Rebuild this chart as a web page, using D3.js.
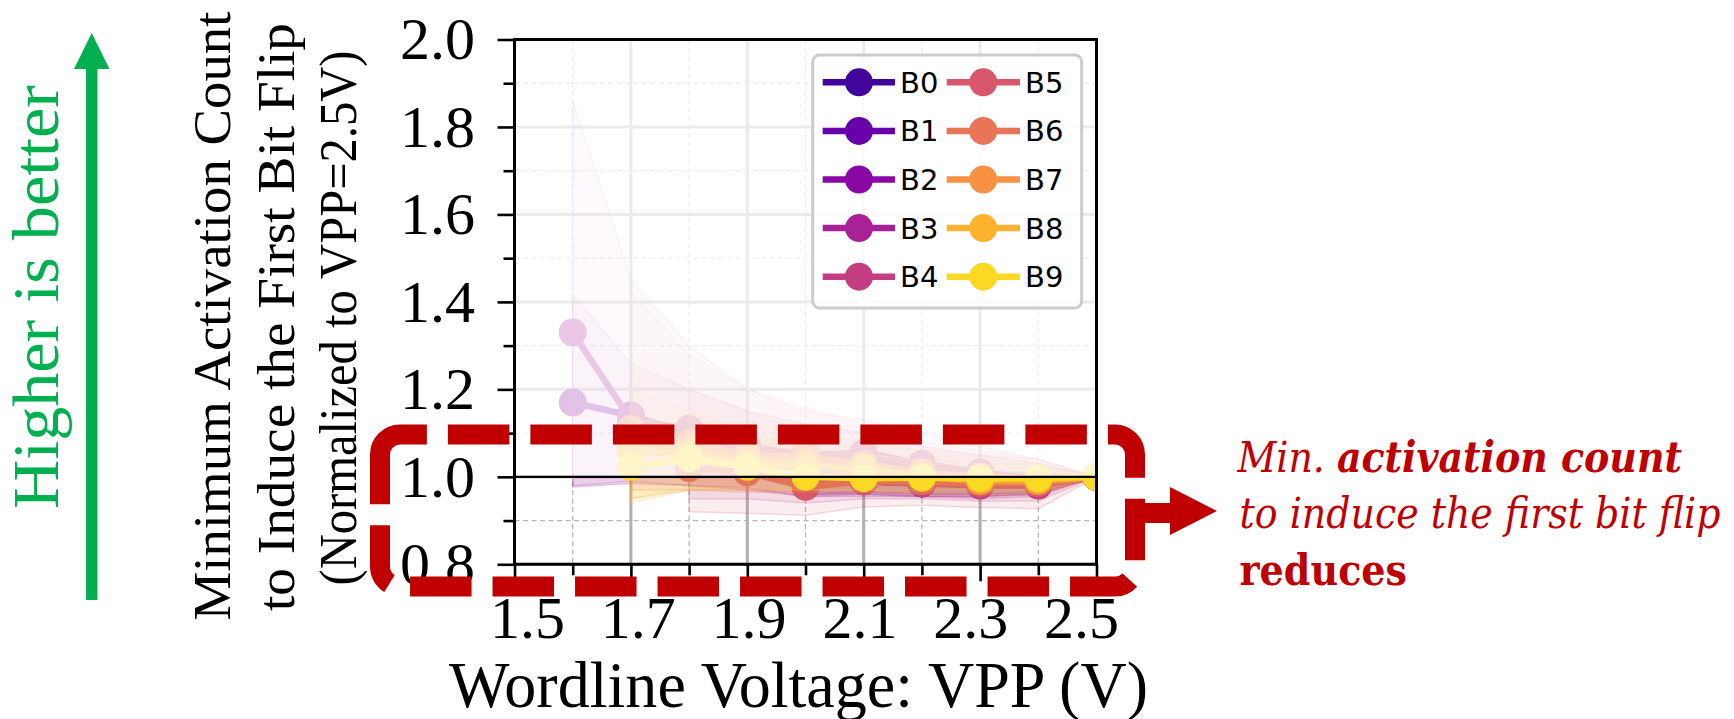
<!DOCTYPE html>
<html>
<head>
<meta charset="utf-8">
<script src="https://cdn.jsdelivr.net/npm/d3@7"></script>
<style>
  html, body { margin: 0; padding: 0; background: #fff; }
  svg { display: block; }
</style>
</head>
<body>
<svg id="chart" width="1734" height="719"></svg>
<script>
// ---- data -------------------------------------------------------------
const vpp = [1.6, 1.7, 1.8, 1.9, 2.0, 2.1, 2.2, 2.3, 2.4, 2.5];
const seriesNames = ["B0", "B1", "B2", "B3", "B4", "B5", "B6", "B7", "B8", "B9"];

// mean normalized activation count per module (null = no bit flips measured)
const meanValues = [
  [null, null, null, null, 0.985, 0.99, 0.985, 0.985, 0.99, 1.0],
  [null, null, null, null, 0.99, 0.99, 0.985, 0.985, 0.985, 1.0],
  [1.17, 1.14, 1.10, 1.06, 1.04, 1.04, 1.02, 1.01, 0.995, 1.0],
  [1.33, 1.13, 1.11, 1.07, 1.05, 1.055, 1.03, 1.01, 0.99, 1.0],
  [null, null, 1.05, 1.03, 0.99, 0.99, 0.985, 0.98, 0.98, 1.0],
  [null, null, 1.02, 1.01, 0.977, 0.99, 0.99, 0.985, 0.985, 1.0],
  [null, 1.11, 1.076, 1.05, 1.046, 1.03, 1.01, 1.0, 0.995, 1.0],
  [null, 1.08, 1.06, 1.04, 1.03, 1.01, 1.0, 0.99, 0.99, 1.0],
  [null, 1.06, 1.05, 1.03, 1.023, 1.02, 1.0, 0.995, 0.995, 1.0],
  [null, 1.023, 1.042, 1.023, 1.0, 0.997, 0.998, 0.997, 0.997, 1.0]
];
// minimum across rows
const lowValues = [
  [null, null, null, null, 0.96, 0.965, 0.96, 0.96, 0.965, 1.0],
  [null, null, null, null, 0.96, 0.96, 0.955, 0.955, 0.96, 1.0],
  [0.977, 0.985, 0.98, 0.975, 0.955, 0.955, 0.955, 0.955, 0.96, 1.0],
  [0.98, 0.99, 0.98, 0.97, 0.955, 0.96, 0.955, 0.95, 0.955, 1.0],
  [null, null, 0.95, 0.95, 0.94, 0.95, 0.95, 0.945, 0.945, 1.0],
  [null, null, 0.92, 0.917, 0.912, 0.931, 0.935, 0.93, 0.927, 1.0],
  [null, 0.97, 0.97, 0.965, 0.965, 0.965, 0.96, 0.96, 0.96, 1.0],
  [null, 0.95, 0.97, 0.97, 0.965, 0.965, 0.96, 0.96, 0.96, 1.0],
  [null, 0.94, 0.97, 0.97, 0.97, 0.97, 0.965, 0.965, 0.965, 1.0],
  [null, 0.95, 0.975, 0.975, 0.97, 0.97, 0.97, 0.97, 0.97, 1.0]
];
// maximum across rows
const highValues = [
  [null, null, null, null, 1.02, 1.02, 1.01, 1.01, 1.01, 1.0],
  [null, null, null, null, 1.03, 1.02, 1.015, 1.01, 1.01, 1.0],
  [1.415, 1.26, 1.2, 1.15, 1.12, 1.1, 1.07, 1.05, 1.03, 1.0],
  [1.86, 1.45, 1.3, 1.2, 1.15, 1.13, 1.1, 1.07, 1.04, 1.0],
  [null, null, 1.15, 1.1, 1.07, 1.05, 1.04, 1.03, 1.03, 1.0],
  [null, null, 1.2, 1.15, 1.1, 1.08, 1.06, 1.05, 1.04, 1.0],
  [null, 1.42, 1.28, 1.2, 1.16, 1.12, 1.08, 1.06, 1.04, 1.0],
  [null, 1.25, 1.2, 1.15, 1.12, 1.1, 1.07, 1.05, 1.03, 1.0],
  [null, 1.2, 1.15, 1.12, 1.1, 1.08, 1.06, 1.04, 1.03, 1.0],
  [null, 1.12, 1.15, 1.1, 1.07, 1.05, 1.04, 1.03, 1.02, 1.0]
];

const xMajorTicks = [1.5, 1.7, 1.9, 2.1, 2.3, 2.5];
const xMinorTicks = [1.6, 1.8, 2.0, 2.2, 2.4];
const xTickLabels = ["1.5", "1.7", "1.9", "2.1", "2.3", "2.5"];
const yMajorTicks = [0.8, 1.0, 1.2, 1.4, 1.6, 1.8, 2.0];
const yMinorTicks = [0.9, 1.1, 1.3, 1.5, 1.7, 1.9];
const yTickLabels = ["0.8", "1.0", "1.2", "1.4", "1.6", "1.8", "2.0"];
const baseline = 1.0;

// ---- layout -------------------------------------------------------------
const plot = { left: 514.5, right: 1096.5, top: 39.5, bottom: 564.3 };
const x = d3.scaleLinear().domain([1.5, 2.5]).range([plot.left, plot.right]);
const y = d3.scaleLinear().domain([0.8, 2.0]).range([plot.bottom, plot.top]);
const xLabelScale = d3.scaleLinear().domain([1.5, 2.5]).range([527, 1081]);
const colors = seriesNames.map((_, i) => d3.interpolatePlasma(0.1 + i * 0.0915));
const serif = "'Liberation Serif', 'Times New Roman', serif";
const red = "#c00000";

const svg = d3.select("#chart");
svg.append("rect").attr("width", 1734).attr("height", 719).attr("fill", "#fff");

svg.append("defs").append("clipPath").attr("id", "plot-clip")
  .append("rect")
  .attr("x", plot.left).attr("y", plot.top)
  .attr("width", plot.right - plot.left).attr("height", plot.bottom - plot.top);

// ---- grid -------------------------------------------------------------
const grid = svg.append("g").attr("clip-path", "url(#plot-clip)");
grid.selectAll(".vminor").data(xMinorTicks).join("line")
  .attr("x1", d => x(d)).attr("x2", d => x(d))
  .attr("y1", plot.top).attr("y2", plot.bottom)
  .attr("stroke", "#b8b8b8").attr("stroke-width", 1.3).attr("stroke-dasharray", "5,3.5");
grid.selectAll(".hminor").data(yMinorTicks).join("line")
  .attr("y1", d => y(d)).attr("y2", d => y(d))
  .attr("x1", plot.left).attr("x2", plot.right)
  .attr("stroke", "#b8b8b8").attr("stroke-width", 1.3).attr("stroke-dasharray", "5,3.5");
grid.selectAll(".vmajor").data(xMajorTicks).join("line")
  .attr("x1", d => x(d)).attr("x2", d => x(d))
  .attr("y1", plot.top).attr("y2", plot.bottom)
  .attr("stroke", "#b0b0b0").attr("stroke-width", 3);
grid.selectAll(".hmajor").data(yMajorTicks).join("line")
  .attr("y1", d => y(d)).attr("y2", d => y(d))
  .attr("x1", plot.left).attr("x2", plot.right)
  .attr("stroke", "#b0b0b0").attr("stroke-width", 3);

// ---- series -------------------------------------------------------------
const marks = svg.append("g").attr("clip-path", "url(#plot-clip)");
const area = d3.area()
  .defined(d => d.lo != null)
  .x(d => x(d.v)).y0(d => y(d.lo)).y1(d => y(d.hi));
const line = d3.line()
  .defined(d => d.m != null)
  .x(d => x(d.v)).y(d => y(d.m));

seriesNames.forEach((name, i) => {
  const rows = vpp.map((v, j) => ({
    v, m: meanValues[i][j], lo: lowValues[i][j], hi: highValues[i][j]
  }));
  const g = marks.append("g").attr("class", "series " + name);
  g.append("path").datum(rows).attr("d", area)
    .attr("fill", colors[i]).attr("fill-opacity", 0.11)
    .attr("stroke", colors[i]).attr("stroke-opacity", 0.2).attr("stroke-width", 1.5);
  g.append("path").datum(rows).attr("d", line)
    .attr("fill", "none").attr("stroke", colors[i]).attr("stroke-width", 6.5)
    .attr("stroke-linejoin", "round");
  g.selectAll("circle").data(rows.filter(d => d.m != null)).join("circle")
    .attr("cx", d => x(d.v)).attr("cy", d => y(d.m)).attr("r", 14)
    .attr("fill", colors[i]);
});

// wash over the region above the VPP=2.5V reference level
svg.append("rect")
  .attr("x", plot.left).attr("y", plot.top)
  .attr("width", plot.right - plot.left).attr("height", y(baseline) - plot.top)
  .attr("fill", "#fff").attr("fill-opacity", 0.75);

// reference line
svg.append("line")
  .attr("x1", plot.left).attr("x2", plot.right)
  .attr("y1", y(baseline)).attr("y2", y(baseline))
  .attr("stroke", "#000").attr("stroke-width", 2.2);

// ---- axes -------------------------------------------------------------
function styleTicks(g) {
  g.select(".domain").remove();
  g.selectAll(".tick line").attr("stroke", "#000").attr("stroke-width", 2.6);
}
svg.append("g").attr("transform", `translate(${plot.left},0)`)
  .call(d3.axisLeft(y).tickValues(yMinorTicks).tickSize(11).tickFormat(""))
  .call(styleTicks);
svg.append("g").attr("transform", `translate(${plot.left},0)`)
  .call(d3.axisLeft(y).tickValues(yMajorTicks).tickSize(17).tickPadding(22.5)
    .tickFormat((d, i) => yTickLabels[i]))
  .call(styleTicks)
  .call(g => g.selectAll("text").attr("font-family", serif).attr("font-size", 60).attr("fill", "#000"));

svg.append("g").attr("transform", `translate(0,${plot.bottom})`)
  .call(d3.axisBottom(x).tickValues(xMinorTicks).tickSize(11).tickFormat(""))
  .call(styleTicks);
svg.append("g").attr("transform", `translate(0,${plot.bottom})`)
  .call(d3.axisBottom(x).tickValues(xMajorTicks).tickSize(17).tickFormat(""))
  .call(styleTicks);
svg.append("g").attr("transform", `translate(0,${plot.bottom})`)
  .call(d3.axisBottom(xLabelScale).tickValues(xMajorTicks).tickSize(0).tickPadding(31.4)
    .tickFormat((d, i) => xTickLabels[i]))
  .call(g => { g.select(".domain").remove(); g.selectAll(".tick line").remove(); })
  .call(g => g.selectAll("text").attr("font-family", serif).attr("font-size", 60).attr("fill", "#000"));

// spines
svg.append("rect")
  .attr("x", plot.left).attr("y", plot.top)
  .attr("width", plot.right - plot.left).attr("height", plot.bottom - plot.top)
  .attr("fill", "none").attr("stroke", "#000").attr("stroke-width", 3);

// axis titles
svg.append("text")
  .attr("x", 798.5).attr("y", 706.7)
  .attr("text-anchor", "middle")
  .attr("font-family", serif).attr("font-size", 65)
  .attr("textLength", 699).attr("lengthAdjust", "spacingAndGlyphs")
  .text("Wordline Voltage: VPP (V)");

const yTitle = [
  { text: "Minimum Activation Count", base: 230, cy: 316, len: 609 },
  { text: "to Induce the First Bit Flip", base: 294, cy: 317, len: 588 },
  { text: "(Normalized to VPP=2.5V)", base: 356, cy: 318, len: 535 }
];
svg.selectAll(".ytitle").data(yTitle).join("text")
  .attr("class", "ytitle")
  .attr("transform", d => `translate(${d.base},${d.cy}) rotate(-90)`)
  .attr("text-anchor", "middle")
  .attr("font-family", serif).attr("font-size", 53)
  .attr("textLength", d => d.len).attr("lengthAdjust", "spacingAndGlyphs")
  .text(d => d.text);

// ---- legend -------------------------------------------------------------
const legend = svg.append("g");
legend.append("rect")
  .attr("x", 812.7).attr("y", 55).attr("width", 269).attr("height", 253).attr("rx", 7)
  .attr("fill", "#fff").attr("fill-opacity", 0.8)
  .attr("stroke", "#cccccc").attr("stroke-width", 3);
const legendCols = [{ x0: 822.7, x1: 895, mx: 859, tx: 900 }, { x0: 946.7, x1: 1020, mx: 983.3, tx: 1025 }];
seriesNames.forEach((name, i) => {
  const col = legendCols[Math.floor(i / 5)];
  const cy = 82.3 + (i % 5) * 48.6;
  const item = legend.append("g");
  item.append("line").attr("x1", col.x0).attr("x2", col.x1).attr("y1", cy).attr("y2", cy)
    .attr("stroke", colors[i]).attr("stroke-width", 6.5);
  item.append("circle").attr("cx", col.mx).attr("cy", cy).attr("r", 14).attr("fill", colors[i]);
  item.append("text").attr("x", col.tx).attr("y", cy).attr("dy", "0.36em")
    .attr("font-family", "'DejaVu Sans', sans-serif").attr("font-size", 29)
    .text(name);
});

// ---- annotation -------------------------------------------------------------
const box = { left: 380, right: 1135, top: 434.5, bottom: 586.5, r: 20 };
const bp = d3.path();
bp.moveTo(box.left, 457.9);
bp.lineTo(box.left, box.top + box.r);
bp.arcTo(box.left, box.top, box.left + box.r, box.top, box.r);
bp.lineTo(box.right - box.r, box.top);
bp.arcTo(box.right, box.top, box.right, box.top + box.r, box.r);
bp.lineTo(box.right, box.bottom - box.r);
bp.arcTo(box.right, box.bottom, box.right - box.r, box.bottom, box.r);
bp.lineTo(box.left + box.r, box.bottom);
bp.arcTo(box.left, box.bottom, box.left, box.bottom - box.r, box.r);
bp.lineTo(box.left, 457.9);
svg.append("path").attr("d", bp.toString())
  .attr("fill", "none").attr("stroke", red).attr("stroke-width", 20)
  .attr("stroke-dasharray", "61.5 21");

// arrow leaving the box
svg.append("rect").attr("x", 1125).attr("y", 503).attr("width", 47).attr("height", 20).attr("fill", red);
svg.append("path").attr("d", "M1170,487 L1217,511 L1170,535 Z").attr("fill", red);

const noteFont = "'DejaVu Serif', serif";
const note1 = svg.append("text").attr("x", 1237.5).attr("y", 471.7)
  .attr("font-family", noteFont).attr("font-size", 43).attr("font-style", "italic").attr("fill", red)
  .attr("textLength", 444.5).attr("lengthAdjust", "spacingAndGlyphs");
note1.append("tspan").text("Min. ");
note1.append("tspan").attr("font-weight", "bold").text("activation count");
svg.append("text").attr("x", 1239.5).attr("y", 528)
  .attr("font-family", noteFont).attr("font-size", 43).attr("font-style", "italic").attr("fill", red)
  .attr("textLength", 481).attr("lengthAdjust", "spacingAndGlyphs")
  .text("to induce the first bit flip");
svg.append("text").attr("x", 1239.5).attr("y", 585)
  .attr("font-family", noteFont).attr("font-size", 43).attr("font-weight", "bold").attr("fill", red)
  .attr("textLength", 167.5).attr("lengthAdjust", "spacingAndGlyphs")
  .text("reduces");

// ---- "higher is better" marker -------------------------------------------------
const green = "#00b050";
svg.append("rect").attr("x", 86).attr("y", 68).attr("width", 11.5).attr("height", 532).attr("fill", green);
svg.append("path").attr("d", "M74,69 L109.5,69 L91.7,33 Z").attr("fill", green);
svg.append("text")
  .attr("transform", "translate(58,297) rotate(-90)")
  .attr("text-anchor", "middle")
  .attr("font-family", serif).attr("font-size", 65).attr("fill", green)
  .attr("textLength", 424).attr("lengthAdjust", "spacingAndGlyphs")
  .text("Higher is better");
</script>
</body>
</html>
